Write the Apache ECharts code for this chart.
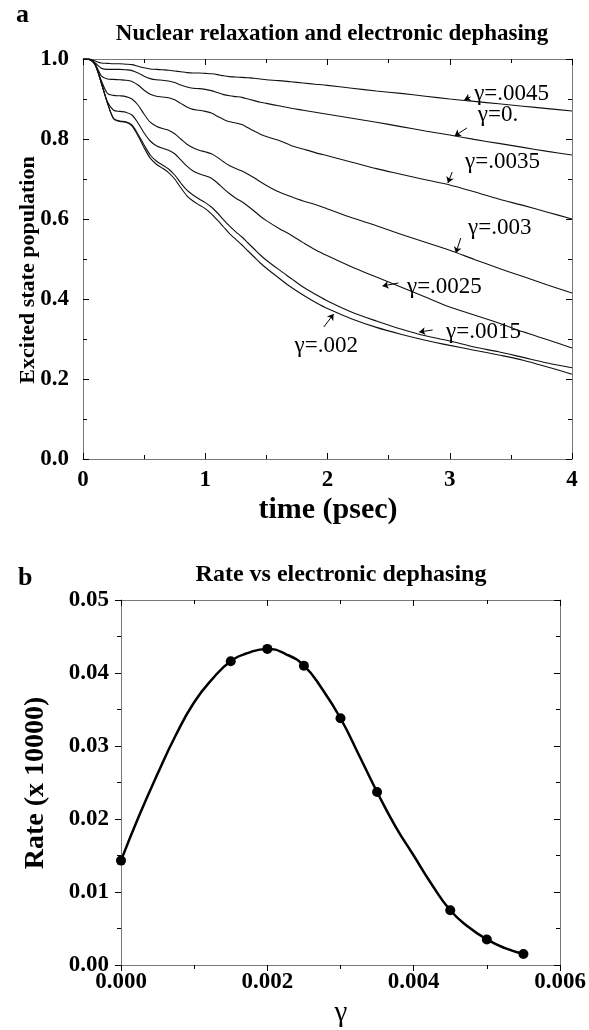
<!DOCTYPE html>
<html><head><meta charset="utf-8">
<script src="https://cdn.jsdelivr.net/npm/echarts@6/dist/echarts.min.js"></script>
<style>html,body{margin:0;padding:0;background:#fff}#c{width:589px;height:1030px}</style>
</head><body><div id="c"></div>
<script>
// ---------- Panel a data ----------
const timePs = [0, .05, .1, .15, .2, .25, .3, .35, .4, .45, .5, .55, .6, .65, .7, .75, .8, .85, .9, .95,
  1.0, 1.05, 1.1, 1.15, 1.2, 1.25, 1.3, 1.35, 1.4, 1.45, 1.5, 1.6, 1.7, 1.8, 1.9, 2.0,
  2.2, 2.4, 2.6, 2.8, 3.0, 3.2, 3.4, 3.6, 3.8, 4.0];
const pop0045 = [1.0, 1.0, 0.995, 0.99, 0.989, 0.988, 0.988, 0.987, 0.986, 0.982, 0.978, 0.975, 0.974, 0.973, 0.972, 0.97, 0.968, 0.966, 0.965, 0.965,
  0.964, 0.963, 0.961, 0.958, 0.956, 0.955, 0.954, 0.953, 0.952, 0.95, 0.948, 0.946, 0.943, 0.94, 0.937, 0.934,
  0.927, 0.92, 0.914, 0.907, 0.9, 0.894, 0.888, 0.882, 0.876, 0.87];
const pop0 = [1.0, 1.0, 0.99, 0.977, 0.974, 0.974, 0.974, 0.973, 0.971, 0.965, 0.957, 0.951, 0.948, 0.947, 0.945, 0.941, 0.935, 0.93, 0.927, 0.926,
  0.924, 0.921, 0.916, 0.911, 0.908, 0.906, 0.904, 0.9, 0.896, 0.892, 0.889, 0.883, 0.877, 0.872, 0.867, 0.862,
  0.852, 0.842, 0.831, 0.82, 0.81, 0.799, 0.789, 0.779, 0.769, 0.76];
const pop0035 = [1.0, 1.0, 0.987, 0.958, 0.95, 0.949, 0.948, 0.947, 0.944, 0.935, 0.922, 0.912, 0.907, 0.905, 0.903, 0.898, 0.889, 0.88, 0.874, 0.872,
  0.869, 0.865, 0.857, 0.849, 0.843, 0.84, 0.836, 0.828, 0.82, 0.812, 0.806, 0.797, 0.784, 0.775, 0.766, 0.758,
  0.742, 0.726, 0.712, 0.698, 0.685, 0.668, 0.65, 0.634, 0.617, 0.6];
const pop003 = [1.0, 0.999, 0.986, 0.946, 0.914, 0.909, 0.908, 0.906, 0.9, 0.885, 0.862, 0.842, 0.832, 0.826, 0.822, 0.813, 0.8, 0.787, 0.778, 0.772,
  0.768, 0.763, 0.754, 0.743, 0.733, 0.726, 0.72, 0.712, 0.703, 0.693, 0.684, 0.668, 0.656, 0.645, 0.636, 0.625,
  0.603, 0.583, 0.562, 0.542, 0.522, 0.499, 0.477, 0.456, 0.435, 0.415];
const pop0025 = [1.0, 0.999, 0.985, 0.94, 0.893, 0.872, 0.869, 0.867, 0.86, 0.84, 0.815, 0.795, 0.783, 0.777, 0.772, 0.763, 0.748, 0.732, 0.72, 0.713,
  0.708, 0.702, 0.69, 0.676, 0.663, 0.652, 0.643, 0.632, 0.62, 0.607, 0.596, 0.577, 0.56, 0.541, 0.523, 0.508,
  0.48, 0.455, 0.43, 0.405, 0.38, 0.36, 0.34, 0.318, 0.298, 0.2775];
const pop0015 = [1.0, 0.999, 0.985, 0.94, 0.89, 0.852, 0.845, 0.843, 0.835, 0.812, 0.785, 0.76, 0.745, 0.735, 0.725, 0.71, 0.69, 0.672, 0.66, 0.65,
  0.641, 0.63, 0.615, 0.598, 0.582, 0.568, 0.555, 0.54, 0.525, 0.51, 0.497, 0.474, 0.452, 0.43, 0.412, 0.395,
  0.367, 0.345, 0.325, 0.308, 0.295, 0.28, 0.268, 0.254, 0.24, 0.228];
const pop002 = [1.0, 0.999, 0.985, 0.94, 0.89, 0.85, 0.844, 0.842, 0.833, 0.808, 0.778, 0.752, 0.737, 0.727, 0.716, 0.7, 0.678, 0.658, 0.645, 0.635,
  0.626, 0.613, 0.597, 0.58, 0.563, 0.549, 0.535, 0.52, 0.505, 0.49, 0.477, 0.453, 0.43, 0.41, 0.392, 0.376,
  0.35, 0.329, 0.312, 0.297, 0.284, 0.272, 0.26, 0.247, 0.23, 0.212];
const curveNames = ['γ=.0045', 'γ=0.', 'γ=.0035', 'γ=.003', 'γ=.0025', 'γ=.0015', 'γ=.002'];
const curveValues = [pop0045, pop0, pop0035, pop003, pop0025, pop0015, pop002];

// ---------- Panel b data ----------
const rateGamma = [0, 0.0015, 0.002, 0.0025, 0.003, 0.0035, 0.0045, 0.005, 0.0055];
const rateValue = [0.0143, 0.0416, 0.0433, 0.0410, 0.0338, 0.0237, 0.0075, 0.0035, 0.0015];
const fitGamma = [0, 0.00025, 0.0005, 0.00075, 0.001, 0.00125, 0.0015, 0.00175, 0.002, 0.00225, 0.0025, 0.00275,
  0.003, 0.00325, 0.0035, 0.00375, 0.004, 0.00425, 0.0045, 0.00475, 0.005, 0.00525, 0.0055];
const fitRate = [0.0143, 0.0205, 0.0262, 0.0315, 0.036, 0.0392, 0.0416, 0.0428, 0.0433, 0.0426, 0.041, 0.0378,
  0.0338, 0.0288, 0.0237, 0.019, 0.015, 0.011, 0.0075, 0.0052, 0.0035, 0.0023, 0.0015];

// ---------- annotation placement (panel a, data coords) ----------
const labelAnchor = [[3.2, 0.912], [3.23, 0.86], [3.125, 0.7425], [3.15, 0.5775], [2.65, 0.43], [2.97, 0.3175], [1.73, 0.2825]];
const arrowSeg = [
  [[3.17, 0.905], [3.12, 0.898]],
  [[3.14, 0.8275], [3.04, 0.8075]],
  [[3.02, 0.7175], [2.985, 0.69]],
  [[3.09, 0.5525], [3.05, 0.515]],
  [[2.58, 0.44], [2.45, 0.4325]],
  [[2.86, 0.3225], [2.75, 0.3175]],
  [[1.97, 0.33], [2.05, 0.3625]]
];

const SERIF = '"Liberation Serif", "DejaVu Serif", serif';
const chart = echarts.init(document.getElementById('c'), null, {renderer: 'canvas'});

const frameColor = '#777';
function ax(grid, pos, min, max, interval, showLabel, inside, fmt, margin) {
  return {
    type: 'value', gridIndex: grid, position: pos, min: min, max: max, interval: interval,
    axisLine: {show: true, onZero: false, lineStyle: {color: frameColor, width: 1}},
    axisTick: {show: true, inside: inside, length: 6, lineStyle: {color: '#000', width: 1}},
    minorTick: {show: true, splitNumber: 2, length: 4, lineStyle: {color: '#000', width: 1}},
    splitLine: {show: false}, minorSplitLine: {show: false},
    axisLabel: {show: showLabel, formatter: fmt, fontFamily: SERIF, fontWeight: 'bold', fontSize: 23, color: '#000', margin: margin}
  };
}

const series = [];
curveValues.forEach((vals, k) => {
  series.push({
    type: 'line', xAxisIndex: 0, yAxisIndex: 0, name: curveNames[k],
    data: timePs.map((t, i) => [t, vals[i]]),
    showSymbol: false, symbol: 'none', smooth: 0.3, silent: true,
    lineStyle: {color: '#111', width: 1.1}
  });
});
series.push({
  type: 'scatter', xAxisIndex: 0, yAxisIndex: 0, symbolSize: 0, silent: true,
  itemStyle: {opacity: 1},
  data: curveNames.map((n, k) => ({name: n, value: labelAnchor[k]})),
  label: {show: true, formatter: '{b}', position: 'right', distance: 0,
    fontFamily: SERIF, fontSize: 23, color: '#000'}
});
series.push({
  type: 'lines', coordinateSystem: 'cartesian2d', xAxisIndex: 0, yAxisIndex: 0, silent: true,
  symbol: ['none', 'arrow'], symbolSize: 6,
  lineStyle: {color: '#000', width: 1, opacity: 1},
  data: arrowSeg.map(s => ({coords: s}))
});
series.push({
  type: 'line', xAxisIndex: 2, yAxisIndex: 2, silent: true,
  data: fitGamma.map((g, i) => [g, fitRate[i]]),
  showSymbol: false, symbol: 'none', smooth: 0.5,
  lineStyle: {color: '#000', width: 2.5}
});
series.push({
  type: 'scatter', xAxisIndex: 2, yAxisIndex: 2, silent: true,
  data: rateGamma.map((g, i) => [g, rateValue[i]]),
  symbol: 'circle', symbolSize: 10, itemStyle: {color: '#000', opacity: 1}
});

const mid = {textAlign: 'center', align: 'center', textVerticalAlign: 'middle', verticalAlign: 'middle', fill: '#000'};
const option = {
  animation: false,
  backgroundColor: '#fff',
  grid: [
    {left: 83, top: 59, width: 489, height: 400, containLabel: false},
    {left: 121, top: 600, width: 439, height: 365, containLabel: false}
  ],
  xAxis: [
    ax(0, 'bottom', 0, 4, 1, true, true, v => String(Math.round(v)), 10),
    ax(0, 'top', 0, 4, 1, false, true, null, 8),
    ax(1, 'bottom', 0, 0.006, 0.002, true, false, v => v.toFixed(3), 6),
    ax(1, 'top', 0, 0.006, 0.002, false, true, null, 8)
  ],
  yAxis: [
    ax(0, 'left', 0, 1, 0.2, true, true, v => v.toFixed(1), 14),
    ax(0, 'right', 0, 1, 0.2, false, true, null, 8),
    ax(1, 'left', 0, 0.05, 0.01, true, false, v => v.toFixed(2), 12),
    ax(1, 'right', 0, 0.05, 0.01, false, true, null, 8)
  ],
  series: series,
  graphic: [
    {type: 'text', left: 16, top: 2, style: {text: 'a', font: 'bold 26px ' + SERIF, fill: '#000'}},
    {type: 'text', x: 332, y: 34, style: Object.assign({text: 'Nuclear relaxation and electronic dephasing', font: 'bold 23px ' + SERIF}, mid)},
    {type: 'text', x: 28, y: 270, rotation: Math.PI / 2, style: Object.assign({text: 'Excited state population', font: 'bold 22px ' + SERIF}, mid)},
    {type: 'text', x: 328, y: 510, style: Object.assign({text: 'time (psec)', font: 'bold 30px ' + SERIF}, mid)},
    {type: 'text', left: 18, top: 565, style: {text: 'b', font: 'bold 26px ' + SERIF, fill: '#000'}},
    {type: 'text', x: 341, y: 575, style: Object.assign({text: 'Rate vs electronic dephasing', font: 'bold 24px ' + SERIF}, mid)},
    {type: 'text', x: 36, y: 783, rotation: Math.PI / 2, style: Object.assign({text: 'Rate (x 10000)', font: 'bold 28px ' + SERIF}, mid)},
    {type: 'text', x: 341, y: 1013, style: Object.assign({text: 'γ', font: '29px ' + SERIF}, mid)}
  ]
};
chart.setOption(option);
</script></body></html>
